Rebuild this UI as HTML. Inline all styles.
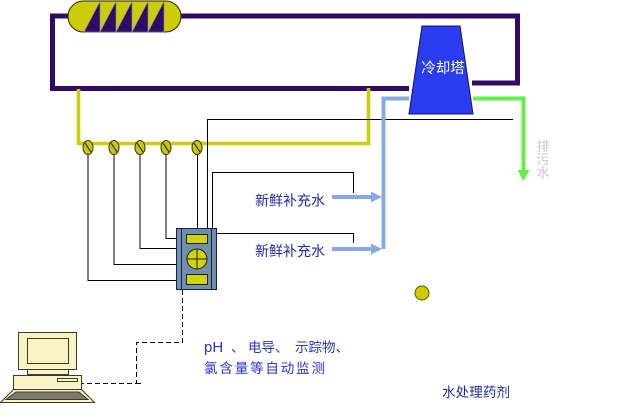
<!DOCTYPE html>
<html><head><meta charset="utf-8"><style>
html,body{margin:0;padding:0;background:#fff;}
svg{display:block;}
text{font-family:"Liberation Sans","Noto Sans CJK SC",sans-serif;}
</style></head><body>
<svg width="622" height="417" viewBox="0 0 622 417" xmlns="http://www.w3.org/2000/svg">
<rect width="622" height="417" fill="#fff"/>
<!-- purple loop -->
<g stroke="#2e0b66" stroke-width="5" fill="none" stroke-linejoin="miter">
<polyline points="409,88.5 52.5,88.5 52.5,16 517.5,16 517.5,83 472,83"/>
</g>
<!-- heat exchanger -->
<rect x="68" y="1" width="113" height="31" rx="15.5" fill="#cccc08" stroke="#2a2a00" stroke-width="1"/>
<g fill="#2e0b66" stroke="#8a8ab0" stroke-width="0.6">
<polygon points="84,32 100,1.5 100,32"/>
<polygon points="100,32 116,1.5 116,32"/>
<polygon points="116,32 132,1.5 132,32"/>
<polygon points="132,32 148,1.5 148,32"/>
<polygon points="148,32 164,1.5 164,32"/>
</g>
<!-- yellow pipe -->
<polyline points="78.5,89 78.5,143.5 368.5,143.5 368.5,88" fill="none" stroke="#cccc11" stroke-width="3.6"/>
<!-- thin black wires -->
<g stroke="#000" stroke-width="1" fill="none">
<polyline points="88,154 88,280.5 176,280.5"/>
<polyline points="114,154 114,264.5 176,264.5"/>
<polyline points="140,154 140,248.5 176,248.5"/>
<polyline points="166,154 166,238.5 176,238.5"/>
<line x1="197.5" y1="154" x2="197.5" y2="228"/>
<polyline points="207.5,228 207.5,119.5 513,119.5"/>
<polyline points="212.5,228 212.5,172.5 353.5,172.5 353.5,193"/>
<polyline points="217,233.5 353.5,233.5 353.5,243"/>
</g>
<!-- sensors -->
<g fill="#c8c810" stroke="#3a3a00" stroke-width="1">
<ellipse cx="88" cy="147.5" rx="5" ry="7"/>
<ellipse cx="114" cy="147.5" rx="5" ry="7"/>
<ellipse cx="140" cy="147.5" rx="5" ry="7"/>
<ellipse cx="166" cy="147.5" rx="5" ry="7"/>
<ellipse cx="197" cy="147.5" rx="5" ry="7"/>
</g>
<g stroke="#3a3a00" stroke-width="1.2">
<line x1="85" y1="143" x2="91" y2="152"/>
<line x1="111" y1="143" x2="117" y2="152"/>
<line x1="137" y1="143" x2="143" y2="152"/>
<line x1="163" y1="143" x2="169" y2="152"/>
<line x1="194" y1="143" x2="200" y2="152"/>
</g>
<!-- cooling tower -->
<polygon points="422,26 460,26 473,114 409,114" fill="#2a3cf0" stroke="#141460" stroke-width="1"/>
<text x="443" y="73" font-size="14.5" fill="#fff" text-anchor="middle">冷却塔</text>
<!-- light blue pipe -->
<g stroke="#88a8e8" stroke-width="4" fill="none">
<polyline points="409,98.5 383.5,98.5 383.5,249"/>
<line x1="332" y1="197" x2="374" y2="197"/>
<line x1="332" y1="249" x2="374" y2="249"/>
</g>
<polygon points="371,191.5 382,197 371,202.5" fill="#88a8e8"/>
<polygon points="371,243.5 382,249 371,254.5" fill="#88a8e8"/>
<!-- green pipe -->
<polyline points="473,98.5 523.5,98.5 523.5,172" fill="none" stroke="#66ee44" stroke-width="4"/>
<polygon points="517.5,170 529.5,170 523.5,181" fill="#66ee44"/>
<text font-size="13" fill="#c4c4d4" text-anchor="middle"><tspan x="543" y="151">排</tspan><tspan x="543" y="164">污</tspan><tspan x="543" y="177">水</tspan></text>
<!-- labels -->
<text x="255" y="205.5" font-size="14" fill="#1c2aa8">新鲜补充水</text>
<text x="255" y="256" font-size="14" fill="#1c2aa8">新鲜补充水</text>
<!-- controller box -->
<rect x="176.5" y="228.5" width="40" height="61" fill="#6f90a8" stroke="#1a1a5a" stroke-width="1"/>
<line x1="181.5" y1="229" x2="181.5" y2="289" stroke="#1a1a5a" stroke-width="1"/>
<line x1="211.5" y1="229" x2="211.5" y2="289" stroke="#1a1a5a" stroke-width="1"/>
<rect x="186.5" y="234.5" width="21" height="9" fill="#d4d400" stroke="#1a1a3a" stroke-width="1"/>
<rect x="186.5" y="274.5" width="21" height="10" fill="#d4d400" stroke="#1a1a3a" stroke-width="1"/>
<circle cx="197" cy="259" r="10" fill="#d4d400" stroke="#1a1a3a" stroke-width="1"/>
<line x1="187" y1="259" x2="207" y2="259" stroke="#1a1a3a" stroke-width="1"/>
<line x1="197" y1="249" x2="197" y2="269" stroke="#1a1a3a" stroke-width="1"/>
<!-- dashed cable -->
<polyline points="182.5,290 182.5,342.5 136.5,342.5 136.5,383.5 82,383.5" fill="none" stroke="#000" stroke-width="1" stroke-dasharray="5,3"/>
<line x1="136" y1="383.5" x2="141" y2="383.5" stroke="#000" stroke-width="1"/>
<!-- computer -->
<g stroke="#3a3a2a" stroke-width="1">
<rect x="18.5" y="332.5" width="58" height="37" fill="#f8f4c4"/>
<rect x="27.5" y="338.5" width="41" height="25" fill="#f8f4c4"/>
<rect x="27.5" y="369.5" width="41" height="5" fill="#f8f4c4"/>
<rect x="13.5" y="375.5" width="68" height="14" fill="#f8f4c4"/>
<rect x="57.5" y="378.5" width="20" height="3" fill="#f8f4c4"/>
<polygon points="13.5,389.5 81.5,389.5 94.5,402.5 0.5,402.5" fill="#f8f4c4"/>
<polygon points="16,392 79,392 88,399.5 6,399.5" fill="#7c7c6a"/>
</g>
<!-- monitoring text -->
<text x="204" y="352" font-size="15" fill="#2a34c8" font-family="Liberation Serif, serif">pH</text>
<text x="231" y="352" font-size="13.5" fill="#2a34c8">、</text>
<text x="248" y="352" font-size="13.5" fill="#2a34c8">电导、</text>
<text x="295" y="352" font-size="13.5" fill="#2a34c8">示踪物、</text>
<text x="204" y="373" font-size="13.5" fill="#2a34c8" textLength="121" lengthAdjust="spacing">氯含量等自动监测</text>
<!-- chemical dosing -->
<circle cx="422" cy="293" r="7" fill="#cccc00" stroke="#5a5a00" stroke-width="1"/>
<text x="442" y="397" font-size="13.5" fill="#1a28a0" textLength="68" lengthAdjust="spacing">水处理药剂</text>
</svg>
</body></html>
